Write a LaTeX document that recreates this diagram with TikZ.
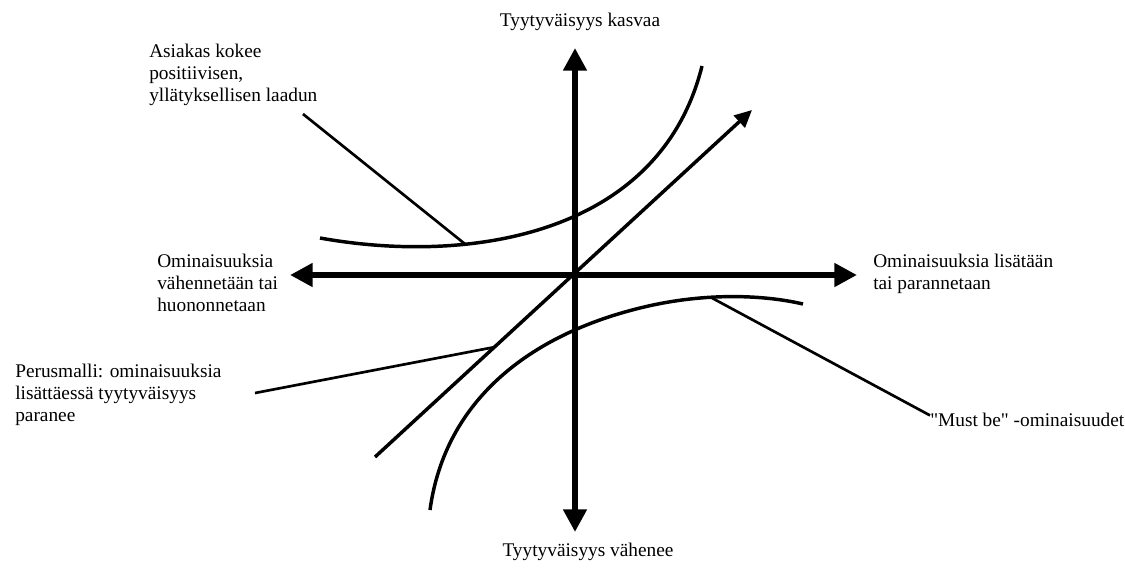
\documentclass[tikz,border=0pt]{standalone}
\usepackage{fontspec}
\setmainfont{Liberation Serif}[Ligatures=TeXOff]
\usetikzlibrary{arrows.meta}
\tikzset{
    axis/.style={line width=4.5pt},
    curve/.style={line width=2.6pt},
    leader/.style={line width=2pt},
    lbl/.style={inner sep=0pt, align=left}
}

\begin{document}
\begin{tikzpicture}[x=0.75pt, y=-0.75pt, >={Triangle[length=17pt, width=17pt]},
    font=\fontsize{14.5}{16.5}\selectfont]
    \useasboundingbox (0,0) rectangle (1125,569);
    % Axes
    \coordinate (xl) at (290,275);
    \coordinate (xr) at (857,275);
    \coordinate (yt) at (575,48);
    \coordinate (yb) at (575,532);
    \draw[axis, <->] (xl) -- (xr);
    \draw[axis, <->] (yb) -- (yt);
    % Curves
    \draw[curve] (320,238) .. controls (470,265) and (660,235) .. (702,66);
    \draw[curve] (430,510) .. controls (445,400) and (530,335) .. (640,308)
        .. controls (700,293) and (760,294) .. (803,304);
    % Basic model line
    \coordinate (d0) at (375,457);
    \coordinate (d1) at (752,110);
    \draw[curve, -{Triangle[length=13pt, width=12pt]}] (d0) -- (d1);
    % Labels
    \node[lbl, anchor=base] (up) at (580,26) {Tyytyväisyys kasvaa};
    \node[lbl, anchor=base] (down) at (588,556) {Tyytyväisyys vähenee};
    \node[lbl, anchor=north west] (asiakas) at (149,44)
        {Asiakas kokee\\positiivisen,\\yllätyksellisen laadun};
    \node[lbl, anchor=north west] (less) at (157,254)
        {Ominaisuuksia\\vähennetään tai\\huononnetaan};
    \node[lbl, anchor=north west] (more) at (873,254)
        {Ominaisuuksia lisätään\\tai parannetaan};
    \node[lbl, anchor=north west] (perus) at (15,364)
        {Perusmalli: ominaisuuksia\\lisättäessä tyytyväisyys\\paranee};
    \node[lbl, anchor=base west] (must) at (930,426) {"Must be" -ominaisuudet};
    % Leaders
    \coordinate (a1) at (303,114);
    \coordinate (a2) at (465,244);
    \draw[leader] (a1) -- (a2);
    \coordinate (p1) at (255,393);
    \coordinate (p2) at (495,347);
    \draw[leader] (p1) -- (p2);
    \coordinate (m1) at (712,298);
    \draw[leader] (m1) -- ([yshift=3pt]must.west);
\end{tikzpicture}
\end{document}
